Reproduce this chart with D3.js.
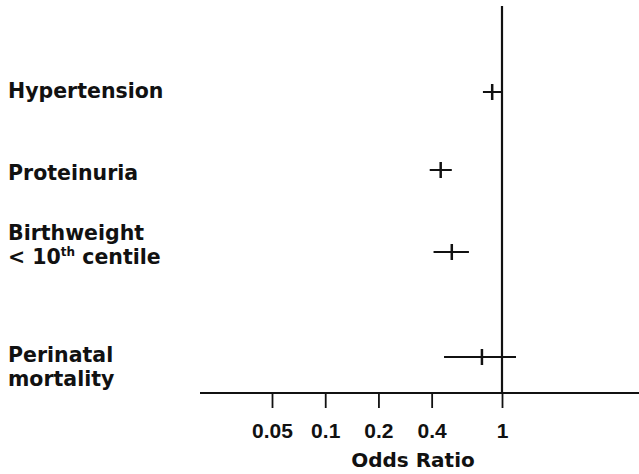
<!DOCTYPE html>
<html>
<head>
<meta charset="utf-8">
<script src="https://cdn.jsdelivr.net/npm/d3@7"></script>
<style>
  body { margin: 0; background: #fff; }
  svg { display: block; }
  text { font-family: "DejaVu Sans", sans-serif; font-weight: bold; fill: #111; }
</style>
</head>
<body>
<svg id="chart" width="639" height="474"></svg>
<script>
// outcomes, top to bottom
var outcomes = ["Hypertension", "Proteinuria", "Birthweight", "Perinatal"];
var labelLines = [["Hypertension"], ["Proteinuria"], ["Birthweight", "< 10|th| centile"], ["Perinatal", "mortality"]];
// odds ratio estimates with 95% CI
var oddsRatio = [0.88, 0.45, 0.52, 0.77];
var ciLower = [0.78, 0.39, 0.41, 0.47];
var ciUpper = [0.99, 0.52, 0.65, 1.2];
var tickValues = [0.05, 0.1, 0.2, 0.4, 1];
var tickLabels = ["0.05", "0.1", "0.2", "0.4", "1"];

var svg = d3.select("#chart");
var axisY = 393;

var x = d3.scaleLog().domain([0.05, 1]).range([272, 502]);
var y = d3.scaleOrdinal().domain(outcomes).range([92, 170, 252, 357]);
var labelY = d3.scaleOrdinal().domain(outcomes).range([98, 180, 240, 362]);

// row labels
var labels = svg.selectAll("text.row-label").data(outcomes).enter().append("text")
  .attr("class", "row-label")
  .attr("x", 8)
  .attr("y", function(d) { return labelY(d); })
  .style("font-size", "20.5px");

labels.each(function(d, i) {
  var t = d3.select(this);
  labelLines[i].forEach(function(line, j) {
    var parts = line.split("|");
    t.append("tspan").attr("x", 8).attr("dy", j == 0 ? 0 : 23.5).text(parts[0]);
    if (parts.length > 1) {
      t.append("tspan").attr("dy", -8).style("font-size", "12px").text(parts[1]);
      t.append("tspan").attr("dy", 8).text(parts[2]);
    }
  });
});

// axis line
svg.append("line")
  .attr("x1", 200).attr("x2", 639)
  .attr("y1", axisY).attr("y2", axisY)
  .attr("stroke", "#111").attr("stroke-width", 2);

// reference line at OR = 1
svg.append("line")
  .attr("x1", x(1)).attr("x2", x(1))
  .attr("y1", 6).attr("y2", axisY)
  .attr("stroke", "#111").attr("stroke-width", 2.2);

var axis = d3.axisBottom(x)
  .tickValues(tickValues)
  .tickFormat(function(d, i) { return tickLabels[i]; })
  .tickSize(15)
  .tickPadding(15);

var g = svg.append("g").attr("transform", "translate(0," + axisY + ")").call(axis);
g.select(".domain").remove();
g.selectAll(".tick line").attr("stroke", "#111").attr("stroke-width", 1.8);
g.selectAll(".tick text")
  .style("font-family", "\"Liberation Sans\", Arial, sans-serif")
  .style("font-weight", "bold")
  .style("font-size", "21px")
  .attr("fill", "#111");

svg.append("text")
  .attr("x", 413).attr("y", 467)
  .attr("text-anchor", "middle")
  .style("font-size", "20px")
  .text("Odds Ratio");

// confidence intervals
svg.selectAll("line.ci").data(outcomes).enter().append("line")
  .attr("class", "ci")
  .attr("x1", function(d, i) { return x(ciLower[i]); })
  .attr("x2", function(d, i) { return x(ciUpper[i]); })
  .attr("y1", function(d) { return y(d); })
  .attr("y2", function(d) { return y(d); })
  .attr("stroke", "#111").attr("stroke-width", 2);

// point estimates
svg.selectAll("line.est").data(outcomes).enter().append("line")
  .attr("class", "est")
  .attr("x1", function(d, i) { return x(oddsRatio[i]); })
  .attr("x2", function(d, i) { return x(oddsRatio[i]); })
  .attr("y1", function(d) { return y(d) - 8; })
  .attr("y2", function(d) { return y(d) + 8; })
  .attr("stroke", "#111").attr("stroke-width", 2.5);
</script>
</body>
</html>
